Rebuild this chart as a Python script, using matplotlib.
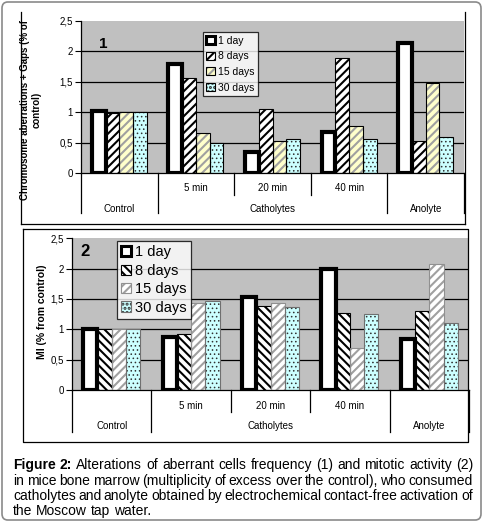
import matplotlib
matplotlib.use("Agg")
import matplotlib.pyplot as plt
from matplotlib.patches import Patch, FancyBboxPatch
from matplotlib.lines import Line2D
import numpy as np

plt.rcParams['font.family'] = ['Liberation Sans', 'DejaVu Sans']
plt.rcParams['hatch.linewidth'] = 1.5

# data
series = ["1 day", "8 days", "15 days", "30 days"]
sub_labels = ["", "5 min", "20 min", "40 min", ""]
group_labels = ["Control", "Catholytes", "Anolyte"]
group_spans = [(0, 0), (1, 3), (4, 4)]

aberr_1day = [1.02, 1.80, 0.35, 0.67, 2.13]
aberr_8days = [0.99, 1.57, 1.05, 1.89, 0.52]
aberr_15days = [1.00, 0.65, 0.53, 0.77, 1.48]
aberr_30days = [1.00, 0.50, 0.56, 0.56, 0.60]

mi_1day = [1.01, 0.87, 1.53, 2.00, 0.84]
mi_8days = [1.00, 0.92, 1.38, 1.27, 1.31]
mi_15days = [1.00, 1.43, 1.43, 0.69, 2.07]
mi_30days = [1.00, 1.47, 1.36, 1.26, 1.10]

yticks = [0, 0.5, 1, 1.5, 2, 2.5]
ytick_labels = ["0", "0,5", "1", "1,5", "2", "2,5"]

caption_lines = [
    "Figure 2: Alterations of aberrant cells frequency (1) and mitotic activity (2)",
    "in mice bone marrow (multiplicity of excess over the control), who consumed",
    "catholytes and anolyte obtained by electrochemical contact-free activation of",
    "the Moscow tap water.",
]

# styles: (face, hatch colour, hatch, hatch width, edge colour, edge width)
styles1 = [
    ("white", "black", None, 1.5, "black", 3.0),
    ("white", "black", "////", 1.5, "black", 0.8),
    ("#FFFFCC", "#A0A0A0", "////", 1.5, "black", 0.8),
    ("#CCFFFF", "#303030", "....", 0.6, "black", 0.8),
]
styles2 = [
    ("white", "black", None, 1.5, "black", 3.0),
    ("white", "black", "\\\\\\\\", 1.5, "black", 0.8),
    ("white", "#A0A0A0", "////", 1.5, "#909090", 0.8),
    ("#CCFFFF", "#303030", "....", 0.6, "#707070", 0.8),
]

W, H = 483, 522
fig = plt.figure(figsize=(W / 100, H / 100), dpi=100)


def fx(x):
    return x / W


def fy(y):
    return 1 - y / H


def set_hlw(patch, lw):
    if hasattr(patch, "set_hatch_linewidth"):
        patch.set_hatch_linewidth(lw)


def draw_panel(ax, values, styles):
    x = np.arange(len(sub_labels))
    bw = 0.18
    handles = []
    for i, (vals, st) in enumerate(zip(values, styles)):
        face, hcol, hatch, hlw, ecol, lw = st
        pos = x + (i - 1.5) * bw
        bars = ax.bar(pos, vals, bw, facecolor=face, edgecolor=hcol, hatch=hatch,
                      linewidth=0, zorder=2)
        for b in bars:
            set_hlw(b, hlw)
        ax.bar(pos, vals, bw, facecolor="none", edgecolor=ecol, linewidth=lw,
               zorder=3)
        hp = Patch(facecolor=face, edgecolor=hcol, hatch=hatch, linewidth=0)
        set_hlw(hp, hlw)
        handles.append((hp, Patch(facecolor="none", edgecolor=ecol,
                                  linewidth=min(lw, 2.2))))
    ax.set_facecolor("#C0C0C0")
    ax.set_xlim(-0.5, len(sub_labels) - 0.5)
    ax.set_ylim(0, 2.5)
    ax.set_yticks(yticks)
    ax.set_yticklabels(ytick_labels, fontsize=7)
    ax.tick_params(axis="y", length=4, width=0.8, pad=2)
    ax.set_xticks([])
    for yv in yticks[1:-1]:
        ax.axhline(yv, color="black", lw=0.9, zorder=1)
    for s in ["top", "right"]:
        ax.spines[s].set_visible(False)
    ax.spines["left"].set_linewidth(0.9)
    ax.spines["bottom"].set_linewidth(0.9)
    return handles


def draw_table(ax, sub_bottom, grp_bottom, sub_y, grp_y):
    tr = ax.get_xaxis_transform()
    n = len(sub_labels)
    grp_edges = set()
    for a, b in group_spans:
        grp_edges.add(a - 0.5)
        grp_edges.add(b + 0.5)
    for k in range(n + 1):
        b = k - 0.5
        bottom = grp_bottom if b in grp_edges else sub_bottom
        ax.add_line(Line2D([b, b], [0, bottom], transform=tr, color="black",
                           lw=0.9, clip_on=False))
    for i, lab in enumerate(sub_labels):
        if lab:
            ax.text(i, sub_y, lab, transform=tr, ha="center", va="center", fontsize=7)
    for lab, (a, b) in zip(group_labels, group_spans):
        ax.text((a + b) / 2, grp_y, lab, transform=tr, ha="center", va="center", fontsize=7)


# panel 1
ax1 = fig.add_axes([fx(81), fy(173), fx(464) - fx(81), fy(21) - fy(173)])
h1 = draw_panel(ax1, [aberr_1day, aberr_8days, aberr_15days, aberr_30days], styles1)
draw_table(ax1, -0.145, -0.263, -0.099, -0.237)
leg1 = ax1.legend(h1, series, loc="upper left", bbox_to_anchor=(0.318, 0.928),
                  borderaxespad=0, fontsize=7.5, frameon=True, fancybox=False,
                  handlelength=0.8, handleheight=0.8, handletextpad=0.3,
                  labelspacing=0.55, borderpad=0.35)
leg1.get_frame().set_edgecolor("black")
leg1.get_frame().set_linewidth(0.9)
leg1.set_zorder(5)
ax1.text(0.057, 0.849, "1", transform=ax1.transAxes, fontsize=11, fontweight="bold",
         ha="center", va="center")
fig.text(fx(31), fy(110), "Chromosome aberrations + Gaps (% of\ncontrol)", rotation=90,
         ha="center", va="center", multialignment="center", fontsize=7, fontweight="bold")

# panel 2
ax2 = fig.add_axes([fx(72), fy(390), fx(469) - fx(72), fy(238.3) - fy(390)])
h2 = draw_panel(ax2, [mi_1day, mi_8days, mi_15days, mi_30days], styles2)
draw_table(ax2, -0.145, -0.277, -0.105, -0.237)
leg2 = ax2.legend(h2, series, loc="upper left", bbox_to_anchor=(0.113, 0.982),
                  borderaxespad=0, fontsize=10.5, frameon=True, fancybox=False,
                  handlelength=0.7, handleheight=0.7, handletextpad=0.25,
                  labelspacing=0.3, borderpad=0.3)
leg2.get_frame().set_edgecolor("black")
leg2.get_frame().set_linewidth(0.9)
leg2.set_zorder(5)
ax2.text(0.033, 0.91, "2", transform=ax2.transAxes, fontsize=12, fontweight="bold",
         ha="center", va="center")
fig.text(fx(42), fy(312), "MI (% from control)", rotation=90,
         ha="center", va="center", fontsize=7.5, fontweight="bold")

# panel frames
lk = dict(color="black", lw=0.9, transform=fig.transFigure)
fig.add_artist(Line2D([fx(21), fx(21)], [fy(12), fy(224)], **lk))
fig.add_artist(Line2D([fx(465), fx(465)], [fy(12), fy(224)], **lk))
fig.add_artist(Line2D([fx(21), fx(465)], [fy(224), fy(224)], **lk))
fig.add_artist(Line2D([fx(23), fx(468), fx(468), fx(23), fx(23)],
                      [fy(229), fy(229), fy(442), fy(442), fy(229)], **lk))

# outer border
fig.add_artist(FancyBboxPatch((fx(2), fy(520)), fx(479), 1 - fy(520) - (1 - fy(2)),
                              boxstyle="round,pad=0,rounding_size=0.012",
                              transform=fig.transFigure, facecolor="none",
                              edgecolor="#8a8a8a", lw=1.2))

# justified caption
renderer = fig.canvas.get_renderer()
cap_size = 10
x0, x1 = fx(13), fx(473)


def text_width(s, weight="normal"):
    t = fig.text(0, 0, s, fontsize=cap_size, fontweight=weight)
    w = t.get_window_extent(renderer).width / fig.bbox.width
    t.remove()
    return w


space_w = text_width("a a") - 2 * text_width("a")
baselines = [469, 485, 500, 515]
for li, (line, yb) in enumerate(zip(caption_lines, baselines)):
    words = line.split(" ")
    weights = ["bold" if (li == 0 and wi < 2) else "normal" for wi in range(len(words))]
    widths = [text_width(w, wt) for w, wt in zip(words, weights)]
    if li < len(caption_lines) - 1:
        gap = (x1 - x0 - sum(widths)) / (len(words) - 1)
    else:
        gap = space_w
    xpos = x0
    for w, wt, wd in zip(words, weights, widths):
        fig.text(xpos, fy(yb), w, fontsize=cap_size, fontweight=wt, va="baseline")
        xpos += wd + gap

fig.savefig("out.png", dpi=100)
